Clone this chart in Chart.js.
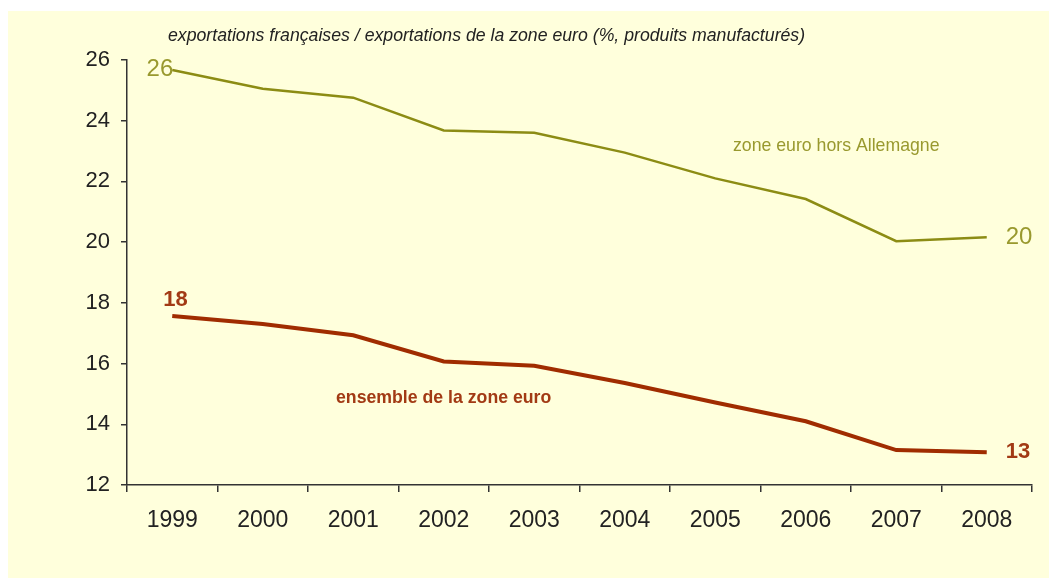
<!DOCTYPE html>
<html>
<head>
<meta charset="utf-8">
<script src="https://cdn.jsdelivr.net/npm/chart.js@4"></script>
<style>
html,body{margin:0;padding:0;background:#fff;}
#wrap{position:absolute;left:8px;top:11px;width:1041px;height:567px;background:#FFFFDC;}
canvas{display:block;}
</style>
</head>
<body>
<div id="wrap"><canvas id="c" width="1041" height="567"></canvas></div>
<script>
const years = ['1999','2000','2001','2002','2003','2004','2005','2006','2007','2008'];
const horsAllemagne = [25.67, 25.05, 24.76, 23.68, 23.6, 22.95, 22.1, 21.42, 20.03, 20.16];
const ensemble = [17.57, 17.3, 16.93, 16.07, 15.93, 15.36, 14.72, 14.1, 13.15, 13.08];
const yTicks = [12, 14, 16, 18, 20, 22, 24, 26];
const titleText = 'exportations françaises / exportations de la zone euro (%, produits manufacturés)';
const labelHors = 'zone euro hors Allemagne';
const labelEns = 'ensemble de la zone euro';
const startLabels = ['26', '18'];
const endLabels = ['20', '13'];

const OLIVE = '#8C8C14';
const OLIVE_TXT = '#99992E';
const RED = '#A02C00';
const RED_TXT = '#A23A14';
const FAM = '"Liberation Sans", Arial, sans-serif';

const annot = {
  id: 'annot',
  afterDatasetsDraw(chart) {
    const ctx = chart.ctx;
    const xs = chart.scales.x, ys = chart.scales.y;
    const ca = chart.chartArea;
    ctx.save();
    // title
    ctx.font = 'italic 17.7px ' + FAM;
    ctx.fillStyle = '#222';
    ctx.textAlign = 'left';
    ctx.textBaseline = 'middle';
    ctx.fillText(titleText, ca.left + 41, ca.top - 24);
    // green start/end
    ctx.font = '24px ' + FAM;
    ctx.fillStyle = OLIVE_TXT;
    ctx.textAlign = 'right';
    ctx.fillText(startLabels[0], xs.getPixelForValue(0) + 1, ys.getPixelForValue(horsAllemagne[0]) - 1);
    ctx.textAlign = 'left';
    ctx.fillText(endLabels[0], xs.getPixelForValue(9) + 19, ys.getPixelForValue(horsAllemagne[9]));
    // red start/end
    ctx.font = 'bold 22px ' + FAM;
    ctx.fillStyle = RED_TXT;
    ctx.textAlign = 'left';
    ctx.fillText(startLabels[1], xs.getPixelForValue(0) - 9, ys.getPixelForValue(ensemble[0]) - 16);
    ctx.fillText(endLabels[1], xs.getPixelForValue(9) + 19, ys.getPixelForValue(ensemble[9]));
    // series labels
    ctx.font = '17.7px ' + FAM;
    ctx.fillStyle = OLIVE_TXT;
    ctx.textAlign = 'left';
    ctx.fillText(labelHors, 725, 135);
    ctx.font = 'bold 17.7px ' + FAM;
    ctx.fillStyle = RED_TXT;
    ctx.fillText(labelEns, 328, 387);
    ctx.restore();
  }
};

new Chart(document.getElementById('c'), {
  type: 'line',
  data: {
    labels: years,
    datasets: [
      { data: horsAllemagne, borderColor: OLIVE, borderWidth: 2.5, pointRadius: 0, tension: 0, fill: false },
      { data: ensemble, borderColor: RED, borderWidth: 4, pointRadius: 0, tension: 0, fill: false }
    ]
  },
  options: {
    responsive: false,
    animation: false,
    events: [],
    layout: { padding: { top: 49, right: 17, left: 0, bottom: 0 } },
    plugins: { legend: { display: false }, tooltip: { enabled: false }, title: { display: false } },
    scales: {
      x: {
        offset: true,
        grid: { offset: true, drawOnChartArea: false, drawTicks: true, tickLength: 7, color: '#333', lineWidth: 1.5 },
        border: { display: true, color: '#333', width: 1.5 },
        ticks: { color: '#222', font: { size: 23, family: FAM }, padding: 15, maxRotation: 0, autoSkip: false },
        afterFit(s) { s.height = 93; }
      },
      y: {
        min: 12, max: 26,
        afterBuildTicks(s) { s.ticks = yTicks.map(v => ({ value: v })); },
        grid: { drawOnChartArea: false, drawTicks: true, tickLength: 6, color: '#333', lineWidth: 1.5 },
        border: { display: true, color: '#333', width: 1.5 },
        ticks: { color: '#222', font: { size: 22, family: FAM }, padding: 11 },
        afterFit(s) { s.width = 119; }
      }
    }
  },
  plugins: [annot]
});
</script>
</body>
</html>
